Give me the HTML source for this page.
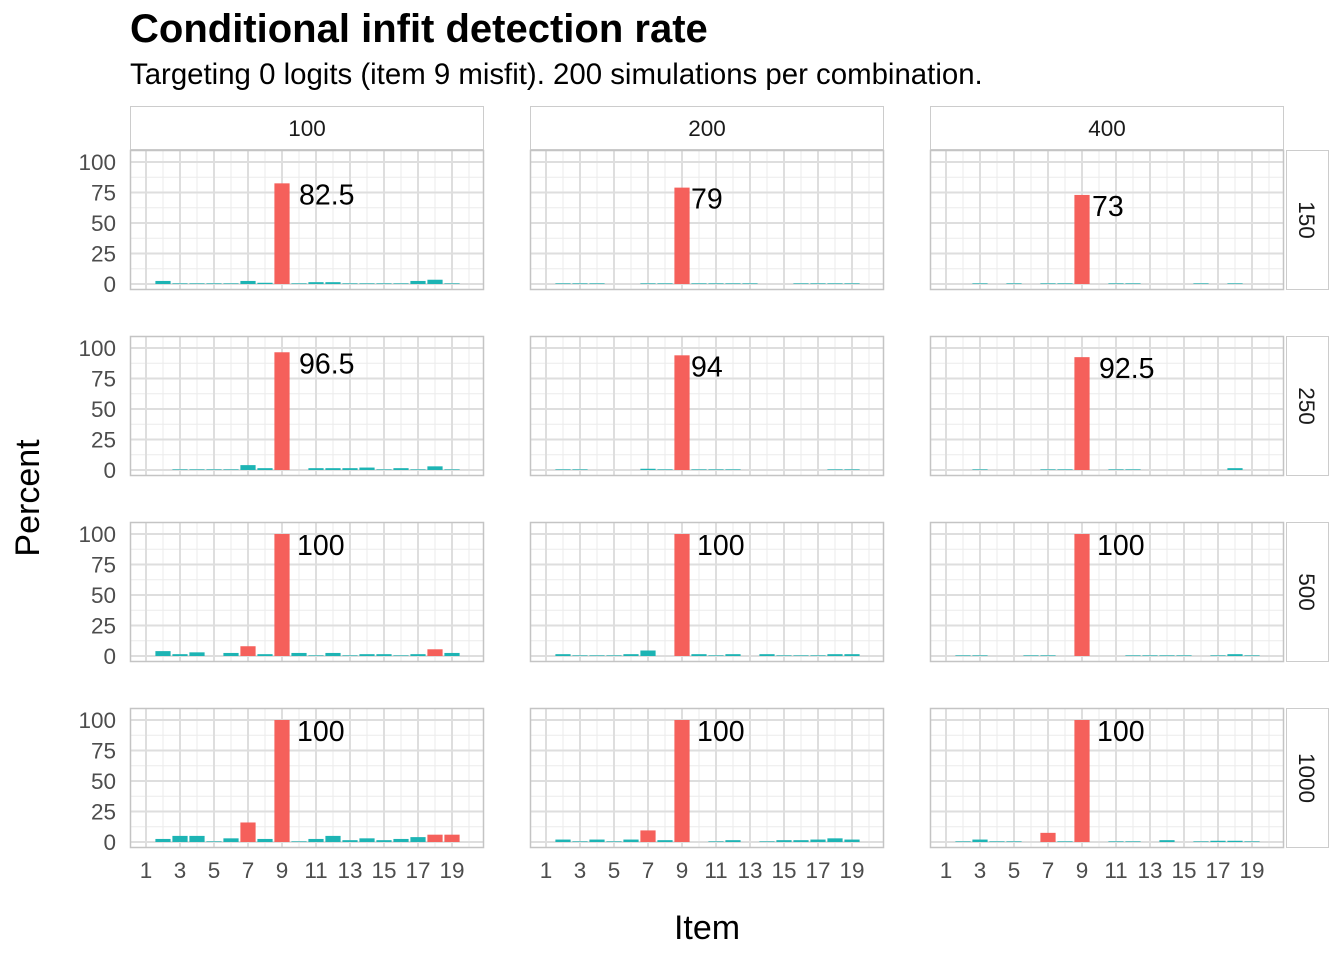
<!DOCTYPE html>
<html><head><meta charset="utf-8"><style>
html,body{margin:0;padding:0;background:#fff;}
svg{display:block;font-family:"Liberation Sans",sans-serif;}
</style></head><body>
<svg id="chart" width="1344" height="960" viewBox="0 0 1344 960" xmlns="http://www.w3.org/2000/svg">
<text x="130" y="42" font-size="40" font-weight="bold" fill="#000">Conditional infit detection rate</text>
<text x="130" y="84" font-size="29.4" fill="#000">Targeting 0 logits (item 9 misfit). 200 simulations per combination.</text>
<text transform="translate(39,498) rotate(-90)" text-anchor="middle" font-size="34" fill="#000">Percent</text>
<text x="707" y="939" text-anchor="middle" font-size="34" fill="#000">Item</text>
<g id="panels"></g>
</svg>
<script>
const colLabels = ["100","200","400"];
const rowLabels = ["150","250","500","1000"];
const items = [1,2,3,4,5,6,7,8,9,10,11,12,13,14,15,16,17,18,19];
const yTicks = [0,25,50,75,100];
const xTicks = [1,3,5,7,9,11,13,15,17,19];
const r150c100 = [0,2.5,0.5,0.5,0.5,0.5,2.5,1,82.5,0.5,1.5,1.5,0.5,0.5,0.5,0.5,2.5,3.5,0.5];
const r150c200 = [0,0.5,0.5,0.5,0,0,0.5,0.5,79,0.5,0.5,0.5,0.5,0,0,0.5,0.5,0.5,0.5];
const r150c400 = [0,0,0.5,0,0.5,0,0.5,0.5,73,0,0.5,0.5,0,0,0,0.5,0,0.5,0];
const r250c100 = [0,0,0.5,0.5,0.5,0.5,4,1.5,96.5,0,1.5,1.5,1.5,2,0.5,1.5,0.5,3,0.5];
const r250c200 = [0,0.5,0.5,0,0,0,1,0.5,94,0.5,0.5,0.5,0,0,0,0,0,0.5,0.5];
const r250c400 = [0,0,0.5,0,0,0,0.5,0.5,92.5,0,0.5,0.5,0,0,0,0,0,1.5,0];
const r500c100 = [0,4,1.5,3,0,2.5,8,1.5,100,2.5,0.5,2.5,0.5,1.5,1.5,0.5,1.5,5.5,2.5];
const r500c200 = [0,1.5,0.5,0.5,0.5,1.5,4.5,0,100,1.5,0.5,1.5,0,1.5,0.5,0.5,0.5,1.5,1.5];
const r500c400 = [0,0.5,0.5,0,0,0.5,0.5,0,100,0,0,0.5,0.5,0.5,0.5,0,0.5,1.5,0.5];
const r1000c100 = [0,2.5,5,5,0.5,3,16,2.5,100,0.5,2.5,5,1.5,3,1.5,2.5,4,6,6];
const r1000c200 = [0,2,0.5,2,0.5,2,9.5,1.5,100,0,0.5,1.5,0,0.5,1.5,1.5,2,3,2];
const r1000c400 = [0,0.5,2,0.5,0.5,0,7.5,0.5,100,0,0.5,0.5,0,1.5,0,0.5,1,1,0.5];
const panelValues = [[r150c100,r150c200,r150c400],[r250c100,r250c200,r250c400],[r500c100,r500c200,r500c400],[r1000c100,r1000c200,r1000c400]];
const labelNudge = [[0.9,0.1,0.2],[0.9,0.1,0.9],[0.7,0.7,0.7],[0.7,0.7,0.7]];

const NS="http://www.w3.org/2000/svg";
const g=document.getElementById('panels');
function mk(tag,attrs,parent){const e=document.createElementNS(NS,tag);for(const k in attrs)e.setAttribute(k,attrs[k]);(parent||g).appendChild(e);return e;}
const colX=[130,530,930], PW=354, rowY=[150,336,522,708], PH=140;
function xs(c,v){return colX[c]+16+(v-1)*17;}
function ys(r,v){return rowY[r]+134-v*1.22;}

colLabels.forEach((lab,c)=>{
  const s=mk('rect',{x:colX[c]+0.5,y:106.5,width:PW-1,height:43,fill:'#fff',stroke:'#cccccc'});
  
  
  const t=mk('text',{x:colX[c]+PW/2,y:136,'text-anchor':'middle','font-size':22.5,fill:'#1a1a1a'});
  t.textContent=lab;
  
  
});
rowLabels.forEach((lab,r)=>{
  const s=mk('rect',{x:1286.5,y:rowY[r]+0.5,width:42,height:PH-1,fill:'#fff',stroke:'#cccccc'});
  
  
  const t=mk('text',{transform:`translate(1299,${rowY[r]+PH/2}) rotate(90)`,'text-anchor':'middle','font-size':22.5,fill:'#1a1a1a'});
  t.textContent=lab;
  
  
});

for(let r=0;r<4;r++){for(let c=0;c<3;c++){
  const x0=colX[c], y0=rowY[r];
  const bg=mk('rect',{x:x0,y:y0,width:PW,height:PH,fill:'#fff'});
  
  
  for(let v=-12.5; v<=112.5; v+=25){const y=ys(r,v); if(y>y0&&y<y0+PH){const l=mk('line',{x1:x0,x2:x0+PW,y1:y,y2:y,stroke:'#ebebeb','stroke-width':1});}}
  for(let v=2; v<=20; v+=2){const x=xs(c,v); if(x<x0+PW){const l=mk('line',{x1:x,x2:x,y1:y0,y2:y0+PH,stroke:'#ebebeb','stroke-width':1});}}
  yTicks.forEach(v=>{const y=ys(r,v);const l=mk('line',{x1:x0,x2:x0+PW,y1:y,y2:y,stroke:'#dedede','stroke-width':2});});
  xTicks.forEach(v=>{const x=xs(c,v);const l=mk('line',{x1:x,x2:x,y1:y0,y2:y0+PH,stroke:'#dedede','stroke-width':2});});
  const vals=panelValues[r][c];
  let maxV=-1,maxI=0;
  items.forEach((it,i)=>{
    const v=vals[i]; if(v>maxV){maxV=v;maxI=it;}
    if(v<=0) return;
    const yt=ys(r,v), yb=ys(r,0);
    const b=mk('rect',{x:xs(c,it)-7.6,y:yt,width:15.2,height:Math.max(yb-yt,0.6),fill:v>5?'#F5605B':'#1DB4B4'});
    
    
  });
  const tl=mk('text',{x:xs(c,maxI)+8+labelNudge[r][c]*10,y:ys(r,maxV)+21,'font-size':28.5,fill:'#000'});
  tl.textContent=String(maxV);
  
  
  const bd=mk('rect',{x:x0+0.5,y:y0+0.5,width:PW-1,height:PH-1,fill:'none',stroke:'#c4c4c4','stroke-width':1.5});
  
  
  if(c===0){yTicks.forEach(v=>{const t=mk('text',{x:116,y:ys(r,v)+8,'text-anchor':'end','font-size':22.5,fill:'#4d4d4d'});t.textContent=String(v);});}
  if(r===3){xTicks.forEach(v=>{const t=mk('text',{x:xs(c,v),y:878,'text-anchor':'middle','font-size':22.5,fill:'#4d4d4d'});t.textContent=String(v);});}
}}
</script>
</body></html>
